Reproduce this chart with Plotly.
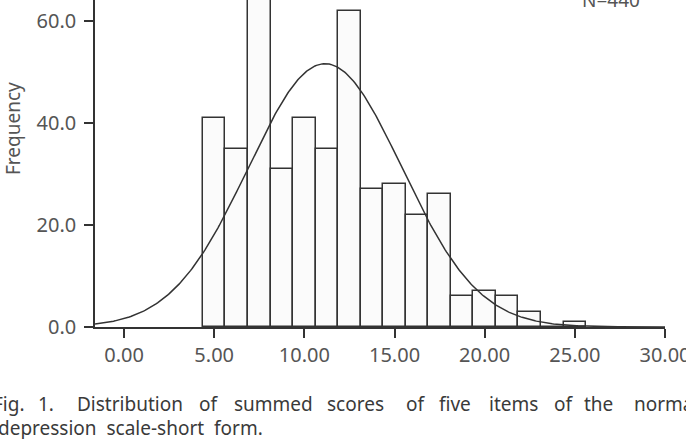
import numpy as np
import plotly.graph_objects as go

# Histogram data (bin centers, frequencies)
bin_centers = [5.0, 6.25, 7.5, 8.75, 10.0, 11.25, 12.5, 13.75, 15.0, 16.25,
               17.5, 18.75, 20.0, 21.25, 22.5, 23.75, 25.0]
frequencies = [41, 35, 69, 31, 41, 35, 62, 27, 28, 22, 26, 6, 7, 6, 3, 0, 1]
bin_width = 1.25

# Normal curve parameters
n_total = 440
mean_score = 11.15
sd_score = 4.25

x_ticks = [0, 5, 10, 15, 20, 25, 30]
x_tick_labels = ["0.00", "5.00", "10.00", "15.00", "20.00", "25.00", "30.00"]
y_ticks = [0, 20, 40, 60]
y_tick_labels = ["0.0", "20.0", "40.0", "60.0"]

W, H = 686, 439
ML, MR, MT, MB = 95, 21, 0, 112
PW = W - ML - MR
PH = H - MT - MB

def px(xp):
    return (xp - ML) / PW

def py(yp):
    return (H - MB - yp) / PH

xs = np.linspace(-1.61, 30, 400)
ys = n_total * bin_width / (sd_score * np.sqrt(2 * np.pi)) * np.exp(-0.5 * ((xs - mean_score) / sd_score) ** 2)

line_col = "#333333"
text_col = "#555555"
font_fam = "Noto Sans, Liberation Sans, sans-serif"

fig = go.Figure()
fig.add_trace(go.Bar(
    x=bin_centers, y=frequencies, width=bin_width,
    marker=dict(color="#fbfbfb", line=dict(color=line_col, width=1.5)),
    showlegend=False, hoverinfo="skip",
))
fig.add_trace(go.Scatter(
    x=xs, y=ys, mode="lines", line=dict(color=line_col, width=1.5),
    showlegend=False, hoverinfo="skip",
))

fig.update_layout(
    width=W, height=H,
    margin=dict(l=ML, r=MR, t=MT, b=MB, autoexpand=False),
    paper_bgcolor="white", plot_bgcolor="white",
    bargap=0,
    font=dict(family=font_fam, color=text_col),
    xaxis=dict(
        range=[-1.61, 30], tickvals=x_ticks, ticktext=x_tick_labels,
        showline=True, linecolor=line_col, linewidth=1.5,
        ticks="outside", ticklen=9, tickwidth=1.5, tickcolor=line_col,
        showgrid=False, zeroline=False, ticklabeloverflow="allow",
        automargin=False,
        tickfont=dict(size=20, color=text_col, family=font_fam),
    ),
    yaxis=dict(
        range=[0, PH / 5.1], tickvals=y_ticks, ticktext=y_tick_labels,
        showline=True, linecolor=line_col, linewidth=1.5,
        ticks="outside", ticklen=9, tickwidth=1.5, tickcolor=line_col,
        showgrid=False, zeroline=False, ticklabeloverflow="allow",
        automargin=False,
        tickfont=dict(size=20, color=text_col, family=font_fam),
        ticklabelstandoff=4,
    ),
)

ann = []
ann.append(dict(text="Frequency", xref="paper", yref="paper", x=px(13), y=py(129),
                textangle=-90, showarrow=False, xanchor="center", yanchor="middle",
                font=dict(size=19, color=text_col, family=font_fam)))
ann.append(dict(text="N=440", xref="paper", yref="paper", x=px(611), y=py(0),
                showarrow=False, xanchor="center", yanchor="middle",
                font=dict(size=19, color=text_col, family=font_fam)))

cap_font = dict(size=19, color="#3a3a3a", family=font_fam)
caption_words = ["Fig.", "1.", "Distribution", "of", "summed", "scores", "of",
                 "five", "items", "of", "the", "normal"]
caption_x = [27, 39, 78, 200, 235, 328, 407, 440, 490, 555, 585, 635]
for i, (w, xw) in enumerate(zip(caption_words, caption_x)):
    ann.append(dict(text=w, xref="paper", yref="paper", x=px(xw), y=py(404),
                    showarrow=False, xanchor="right" if i == 0 else "left",
                    xshift=0 if i == 0 else -3,
                    yanchor="middle", font=cap_font))
ann.append(dict(text="depression  scale-short  form.", xref="paper", yref="paper",
                x=px(0), y=py(428), showarrow=False, xanchor="left", yanchor="middle",
                xshift=-4, font=cap_font))
fig.update_layout(annotations=ann)

fig.write_html("out.html")
